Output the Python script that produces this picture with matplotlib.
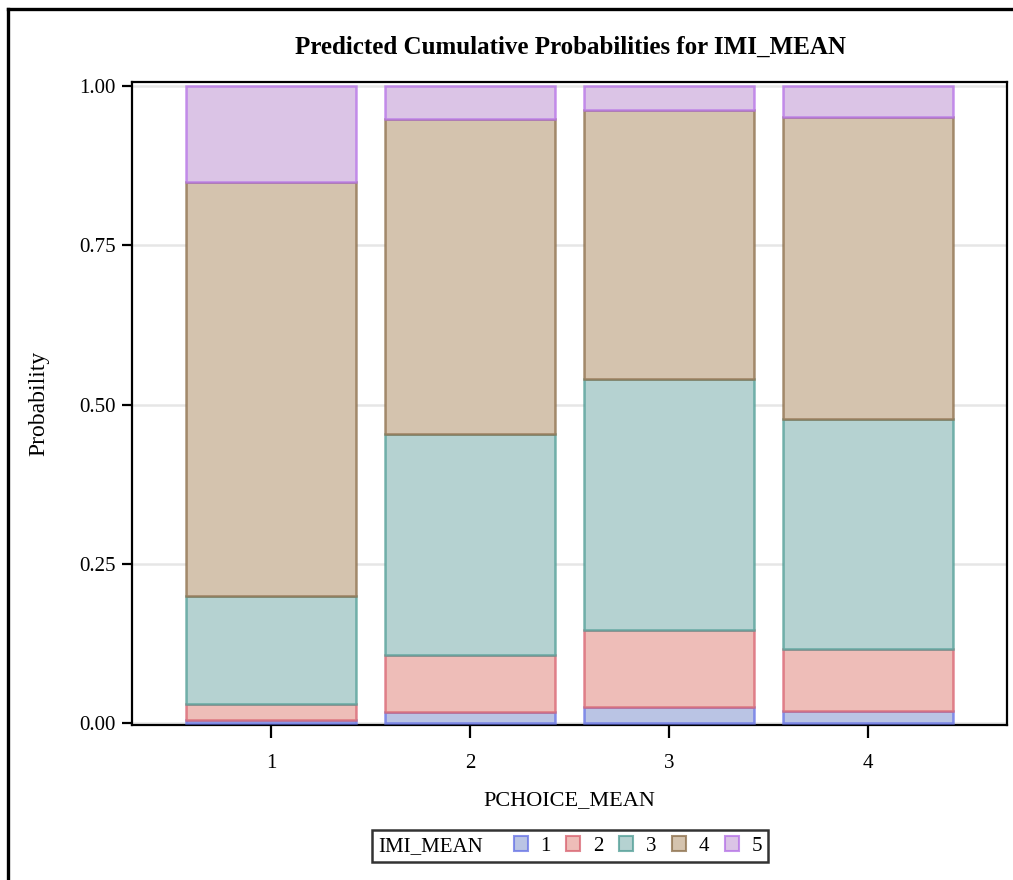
import matplotlib
matplotlib.use("Agg")
import matplotlib.pyplot as plt
from matplotlib.patches import Patch
from matplotlib.lines import Line2D
from matplotlib.offsetbox import HPacker
from matplotlib.colors import to_rgba
import numpy as np

# ---- data ----
categories = ["1", "2", "3", "4"]
levels = ["1", "2", "3", "4", "5"]
# cumulative probabilities P(IMI_MEAN <= level) for each PCHOICE_MEAN
cum1 = [0.005, 0.018, 0.026, 0.020]
cum2 = [0.031, 0.107, 0.146, 0.116]
cum3 = [0.199, 0.454, 0.540, 0.477]
cum4 = [0.849, 0.948, 0.963, 0.951]
cum5 = [1.000, 1.000, 1.000, 1.000]
yticks = [0.00, 0.25, 0.50, 0.75, 1.00]
ytick_labels = ["0.00", "0.25", "0.50", "0.75", "1.00"]

face_colors = ["#BAC4E4", "#EEBDB8", "#B5D2D1", "#D4C3AE", "#DBC4E6"]
edge_colors = ["#6470E6", "#D8606E", "#4E9C94", "#8A6C48", "#B46FE6"]

plt.rcParams["font.family"] = ["Liberation Serif", "DejaVu Serif"]

fig = plt.figure(figsize=(10.13, 8.8), dpi=100)
ax = fig.add_axes([132 / 1013, 1 - 725 / 880, (1007 - 132) / 1013, (725 - 82) / 880])

x = np.arange(1, len(categories) + 1)
cums = [cum1, cum2, cum3, cum4, cum5]
prev = np.zeros(len(categories))
bar_w = 0.855
for i, c in enumerate(cums):
    c = np.array(c)
    ax.bar(x, c - prev, bottom=prev, width=bar_w, color=face_colors[i],
           edgecolor=to_rgba(edge_colors[i], 0.75), linewidth=1.8,
           zorder=3 + i * 0.01)
    prev = c

ax.set_xlim(0.30, 4.70)
ax.set_ylim(-0.0027, 1.0063)
ax.set_xticks(x)
ax.set_xticklabels(categories, fontsize=15)
ax.set_yticks(yticks)
ax.set_yticklabels(ytick_labels, fontsize=15)
ax.yaxis.grid(True, color="#E6E6E6", linewidth=1.8, zorder=0)
ax.set_axisbelow(True)
for s in ax.spines.values():
    s.set_linewidth(1.6)
    s.set_color("black")
ax.tick_params(axis="y", length=7.5, width=1.6, pad=4)
ax.tick_params(axis="x", length=9, width=1.6, pad=12)

ax.set_xlabel("PCHOICE_MEAN", fontsize=16)
ax.xaxis.set_label_coords(0.5, -0.1026)
ax.set_ylabel("Probability", fontsize=17)
ax.yaxis.set_label_coords(-0.095, 0.5)

fig.text(570 / 1013, 1 - 47 / 880, "Predicted Cumulative Probabilities for IMI_MEAN",
         ha="center", va="center", fontsize=18, fontweight="bold")

# legend
handles = [Patch(facecolor=face_colors[i], edgecolor=to_rgba(edge_colors[i], 0.75),
                 linewidth=1.5) for i in range(len(levels))]
leg = fig.legend(handles, levels, title="IMI_MEAN", ncol=5, loc="center",
                 bbox_to_anchor=(570 / 1013, 1 - 846 / 880), frameon=True,
                 fancybox=False, edgecolor="black", fontsize=15, title_fontsize=15,
                 handlelength=0.68, handleheight=0.68, handletextpad=0.6,
                 columnspacing=0.75, borderpad=0.3, borderaxespad=0)
leg.get_frame().set_linewidth(1.8)
# place title to the left of the entries
c = leg.get_children()[0]
title_box = c.get_children()[0]
hpack = c.get_children()[1]
c._children = [HPacker(pad=0, sep=22, align="baseline", children=[title_box, hpack])]

# outer graph border (top and left)
fig.add_artist(Line2D([8 / 1013, 1.0], [1 - 9 / 880, 1 - 9 / 880], color="black",
                      linewidth=2.4, transform=fig.transFigure))
fig.add_artist(Line2D([8 / 1013, 8 / 1013], [0.0, 1 - 9 / 880], color="black",
                      linewidth=2.4, transform=fig.transFigure))

fig.savefig("out.png", dpi=100)
